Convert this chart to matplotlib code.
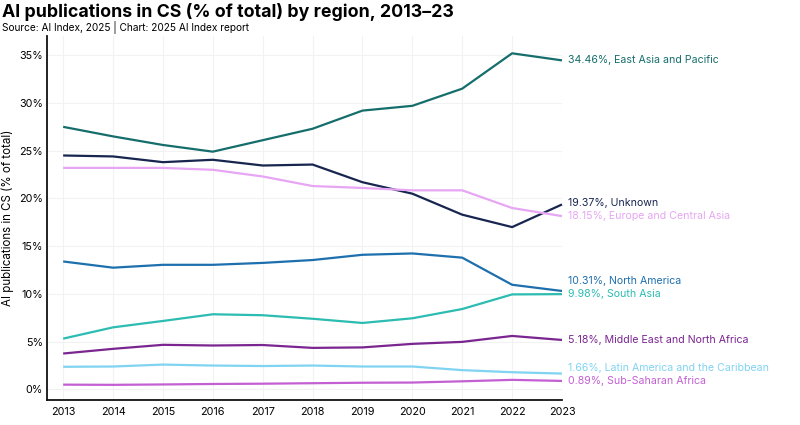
import matplotlib

matplotlib.use("Agg")
import matplotlib.pyplot as plt
from matplotlib.ticker import FuncFormatter

plt.rcParams["font.family"] = ["Inter", "DejaVu Sans"]

YEARS = list(range(2013, 2024))

REGIONS = [
    "East Asia and Pacific",
    "Unknown",
    "Europe and Central Asia",
    "North America",
    "South Asia",
    "Middle East and North Africa",
    "Latin America and the Caribbean",
    "Sub-Saharan Africa",
]

EAST_ASIA = [27.5, 26.5, 25.6, 24.9, 26.1, 27.3, 29.2, 29.7, 31.5, 35.2, 34.46]
UNKNOWN = [24.5, 24.4, 23.8, 24.05, 23.45, 23.55, 21.7, 20.5, 18.3, 17.0, 19.37]
EUROPE = [23.2, 23.2, 23.2, 23.0, 22.3, 21.3, 21.1, 20.85, 20.85, 19.0, 18.15]
NORTH_AMERICA = [13.4, 12.75, 13.05, 13.05, 13.25, 13.55, 14.1, 14.24, 13.8, 10.96, 10.31]
SOUTH_ASIA = [5.32, 6.5, 7.17, 7.87, 7.77, 7.4, 6.96, 7.45, 8.42, 9.95, 9.98]
MIDDLE_EAST = [3.76, 4.25, 4.67, 4.6, 4.65, 4.35, 4.4, 4.77, 4.98, 5.6, 5.18]
LATIN_AMERICA = [2.37, 2.4, 2.6, 2.5, 2.45, 2.5, 2.4, 2.4, 2.02, 1.8, 1.66]
SUB_SAHARAN = [0.5, 0.48, 0.52, 0.57, 0.6, 0.65, 0.7, 0.72, 0.85, 1.0, 0.89]

SERIES = [EAST_ASIA, UNKNOWN, EUROPE, NORTH_AMERICA, SOUTH_ASIA,
          MIDDLE_EAST, LATIN_AMERICA, SUB_SAHARAN]

COLORS = ["#156e6b", "#17254f", "#e6a6f3", "#1d6fae",
          "#2cbcb1", "#7a2590", "#80d3f1", "#c35fd2"]


def spread_labels(values, min_gap=1.35):
    # push end labels upward so they don't overlap
    order = sorted(range(len(values)), key=lambda i: values[i])
    out = list(values)
    prev = None
    for i in order:
        if prev is not None and out[i] < prev + min_gap:
            out[i] = prev + min_gap
        prev = out[i]
    return out


fig = plt.figure(figsize=(8, 4.25), dpi=100)
ax = fig.add_axes([0.059, 0.059, 0.6435, 0.856])

for vals, color in zip(SERIES, COLORS):
    ax.plot(YEARS, vals, color=color, lw=1.6, clip_on=False, solid_capstyle="butt")

label_y = spread_labels([s[-1] for s in SERIES])
for name, vals, color, y in zip(REGIONS, SERIES, COLORS, label_y):
    ax.annotate(
        f"{vals[-1]:.2f}%, {name}",
        xy=(YEARS[-1], y),
        xytext=(4, 0),
        textcoords="offset points",
        va="center",
        ha="left",
        color=color,
        fontsize=7.6,
        annotation_clip=False,
    )

ax.set_xlim(2012.68, 2023)
ax.set_ylim(-1.1, 37)
ax.set_xticks(YEARS)
ax.set_yticks(range(0, 40, 5))
ax.yaxis.set_major_formatter(FuncFormatter(lambda v, _: f"{v:.0f}%"))
ax.tick_params(length=0, labelsize=7.8)
ax.tick_params(axis="x", pad=5)
ax.tick_params(axis="y", pad=3)
ax.grid(True, color="#f2f2f2", lw=0.8)
ax.set_axisbelow(True)
for side in ("top", "right"):
    ax.spines[side].set_visible(False)
for side in ("left", "bottom"):
    ax.spines[side].set_linewidth(1.3)
    ax.spines[side].set_color("#111111")
ax.set_ylabel("AI publications in CS (% of total)", fontsize=8.3, va="center")
ax.yaxis.set_label_coords(-0.077, 0.5)

fig.text(0.003, 0.972, "AI publications in CS (% of total) by region, 2013–23",
         fontsize=12.8, fontweight="bold", va="center")
fig.text(0.003, 0.936, "Source: AI Index, 2025 | Chart: 2025 AI Index report",
         fontsize=7.3, va="center")

fig.savefig("out.png", dpi=100)
